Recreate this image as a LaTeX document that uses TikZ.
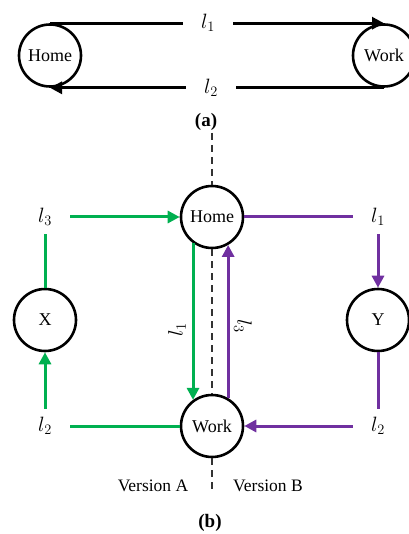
\documentclass[tikz,border=0pt]{standalone}
\usepackage{fontspec}
\setmainfont{Liberation Serif}
\usetikzlibrary{arrows.meta}
\definecolor{grn}{HTML}{00B050}
\definecolor{prp}{HTML}{7030A0}
\begin{document}
\begin{tikzpicture}[x=1pt,y=-1pt,
  place/.style={circle,draw,line width=2.6pt,minimum size=62pt,inner sep=0pt,font=\fontsize{18}{20}\selectfont},
  lab/.style={inner sep=0pt,font=\fontsize{20}{22}\selectfont},
  gapa/.style={lab,minimum width=50pt,minimum height=20pt},
  gapb/.style={lab,minimum width=50pt,minimum height=34pt},
  blk/.style={line width=3pt,black},
  gl/.style={line width=3pt,grn},
  pl/.style={line width=3pt,prp},
  tip/.style={-{Triangle[length=12pt,width=12pt]}},
  dsh/.style={line width=2pt,black!80,dash pattern=on 7pt off 5pt},
  txt/.style={inner sep=0pt,font=\fontsize{17.5}{19}\selectfont},
  captxt/.style={inner sep=0pt,font=\bfseries\fontsize{19}{21}\selectfont}]
\useasboundingbox (0,0) rectangle (408,534);
% (a)
\node[place] (homeA) at (50,55.5) {Home};
\node[place] (workA) at (384,55.5) {Work};
\coordinate (cxa) at (208,0);
\coordinate (cxb) at (211,0);
\node[gapa] (l1A) at (homeA.north -| cxa) {$l_1$};
\node[gapa] (l2A) at (homeA.south -| cxb) {$l_2$};
\draw[blk] (homeA.north) -- (l1A.west);
\draw[blk,tip] (l1A.east) -- (workA.north);
\draw[blk] (workA.south) -- (l2A.east);
\draw[blk,tip] (l2A.west) -- (homeA.south);
\node[captxt] (capA) at (206,122) {(a)};
% (b)
\node[place] (homeB) at (212,217) {Home};
\node[place] (workB) at (212,426) {Work};
\node[place] (X) at (45,320) {X};
\node[place] (Y) at (378,320) {Y};
\node[gapb] (l3B) at (45,217) {$l_3$};
\node[gapb] (l2B) at (45,426) {$l_2$};
\node[gapb] (l1B) at (378,217) {$l_1$};
\node[gapb] (l2C) at (378,426) {$l_2$};
\coordinate (dtop) at (212,133);
\coordinate (dbot) at (212,493);
\draw[dsh] (dtop) -- (homeB.north);
\draw[dsh] (homeB.south) -- (workB.north);
\draw[dsh] (workB.south) -- (dbot);
% green
\draw[gl,tip] (l3B.east) -- (homeB.west);
\draw[gl] (l3B.south) -- (X.north);
\draw[gl,tip] (l2B.north) -- (X.south);
\draw[gl] (l2B.east) -- (workB.west);
\draw[gl,tip] (homeB.-126) -- (workB.126);
% purple
\draw[pl] (homeB.east) -- (l1B.west);
\draw[pl,tip] (l1B.south) -- (Y.north);
\draw[pl] (Y.south) -- (l2C.north);
\draw[pl,tip] (l2C.west) -- (workB.east);
\draw[pl,tip] (workB.60) -- (homeB.-60);
\node[lab,rotate=90] (r1) at (177,330) {$l_1$};
\node[lab,rotate=-90] (r3) at (243,326) {$l_3$};
\node[txt] (va) at (153,486) {Version A};
\node[txt] (vb) at (268,486) {Version B};
\node[captxt] (capB) at (210,523) {(b)};
\end{tikzpicture}
\end{document}
